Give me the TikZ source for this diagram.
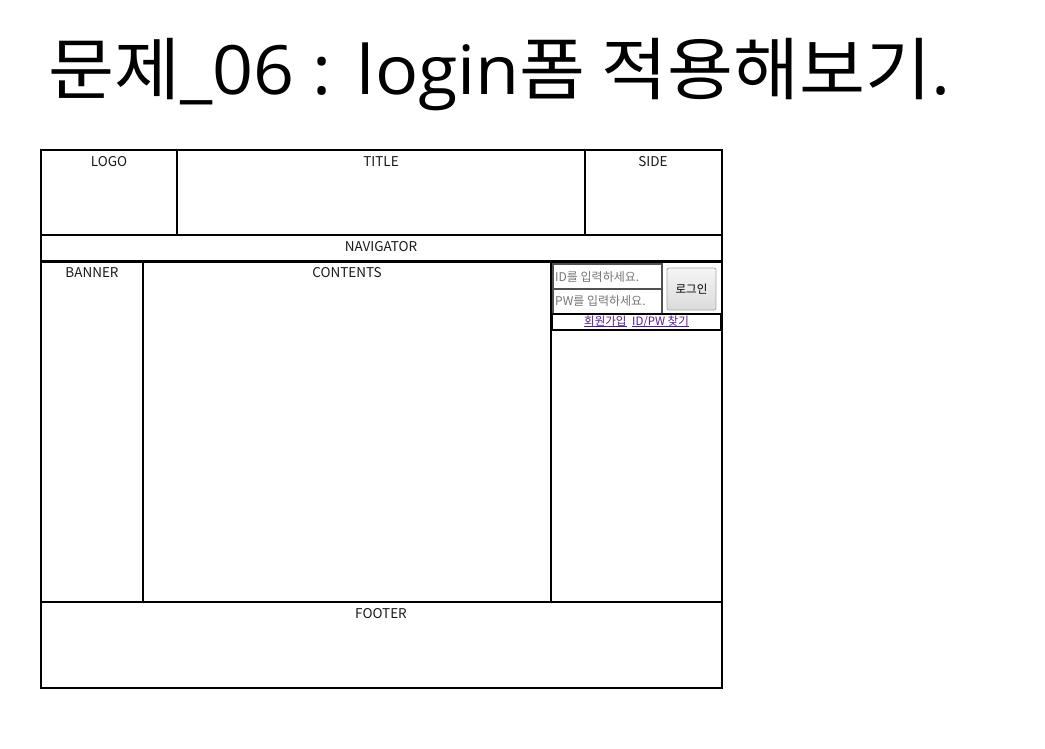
\documentclass[tikz,border=0pt]{standalone}
\usepackage{fontspec}
\setmainfont{Open Sans}
\newfontfamily\kr{Noto Sans CJK KR}
\definecolor{linkc}{RGB}{85,26,139}
\definecolor{phc}{RGB}{117,117,117}
\definecolor{inbord}{RGB}{80,80,80}
\begin{document}
\begin{tikzpicture}[x=1pt,y=-1pt,line join=miter,
  frame/.style={draw=black,line width=2pt},
  lbl/.style={font=\kr\fontsize{13.5}{15}\selectfont,text=black!90,inner sep=0pt,anchor=base},
  inbox/.style={draw=inbord,line width=1.3pt},
  ph/.style={font=\kr\fontsize{12}{13}\selectfont,text=phc,inner sep=0pt,anchor=base west},
  lnk/.style={font=\kr\fontsize{11.5}{12}\selectfont,text=linkc,inner sep=0pt,anchor=base west},
  uline/.style={draw=linkc,line width=0.8pt}]
\useasboundingbox (0,0) rectangle (1045,748);
% title
\node[inner sep=0pt,anchor=base west] (title) at (48,94)
  {\scalebox{1.055}[1]{\fontsize{68}{72}\selectfont{\kr 문제}\_06 : login{\kr 폼 적용해보기}.}};
% header
\draw[frame] (41,150) rectangle (722,235);
\draw[frame] (177,150) -- (177,235);
\draw[frame] (585,150) -- (585,235);
% nav
\draw[frame] (41,235) rectangle (722,261);
% main
\draw[frame] (41,261) rectangle (722,602);
\draw[line width=3pt] (41,261) -- (722,261);
\draw[frame] (143,261) -- (143,602);
\draw[frame] (551,261) -- (551,602);
% footer
\draw[frame] (41,602) rectangle (722,688);
% labels
\node[lbl] (logo) at (109,166) {LOGO};
\node[lbl] (ttl) at (381,166) {TITLE};
\node[lbl] (side) at (653,166) {SIDE};
\node[lbl] (nav) at (381,251) {NAVIGATOR};
\node[lbl] (banner) at (92,277) {BANNER};
\node[lbl] (contents) at (347,277) {CONTENTS};
\node[lbl] (footer) at (381,618) {FOOTER};
% login form
\draw[inbox] (553,264) rectangle (662,289);
\draw[inbox] (553,289) rectangle (662,314);
\node[ph] (idin) at (555,281) {ID를 입력하세요.};
\node[ph] (pwin) at (555,305) {PW를 입력하세요.};
\shade[top color=white!96!black,bottom color=white!86!black,draw=gray!70,line width=0.8pt,rounded corners=2pt] (667,268) rectangle (716,310);
\node[font=\kr\fontsize{11.5}{12}\selectfont,inner sep=0pt] (btn) at (691.5,289.5) {로그인};
\draw[line width=1.5pt] (552,314) rectangle (721,330);
\node[lnk] (join) at (584,325) {회원가입};
\node[lnk] (find) at (632,325) {ID/PW 찾기};
\draw[uline] ([yshift=-1.8pt]join.base west) -- ([yshift=-1.8pt]join.base east);
\draw[uline] ([yshift=-1.8pt]find.base west) -- ([yshift=-1.8pt]find.base east);
\end{tikzpicture}
\end{document}
